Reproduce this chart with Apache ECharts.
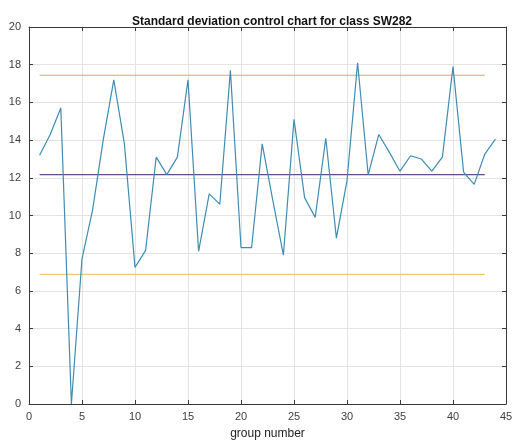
<!DOCTYPE html>
<html>
<head>
<meta charset="utf-8">
<script src="https://cdn.jsdelivr.net/npm/echarts@6/dist/echarts.min.js"></script>
<style>
  html, body { margin: 0; padding: 0; background: #fff; }
  #chart { width: 516px; height: 440px; }
</style>
</head>
<body>
<div id="chart"></div>
<script>
// group numbers and standard deviation per group
const groups = [1, 2, 3, 4, 5, 6, 7, 8, 9, 10, 11, 12, 13, 14, 15, 16, 17, 18, 19, 20, 21, 22,
  23, 24, 25, 26, 27, 28, 29, 30, 31, 32, 33, 34, 35, 36, 37, 38, 39, 40, 41, 42, 43, 44];
const stdDev = [13.2, 14.3, 15.7, 0, 7.7, 10.3, 14.0, 17.2, 13.8, 7.25, 8.15, 13.1, 12.17, 13.1,
  17.2, 8.1, 11.15, 10.6, 17.7, 8.3, 8.3, 13.8, 10.8, 7.9, 15.1, 10.95, 9.9, 14.1, 8.8, 11.85,
  18.1, 12.15, 14.3, 13.35, 12.35, 13.17, 13.0, 12.35, 13.1, 17.9, 12.3, 11.65, 13.26, 14.05];

// control limits, drawn from group 1 to group 43
const limitRange = [1, 43];
const ucl = 17.44;
const centerLine = 12.17;
const lcl = 6.88;

const xTicks = { min: 0, max: 45, interval: 5 };
const yTicks = { min: 0, max: 20, interval: 2 };

const chart = echarts.init(document.getElementById("chart"));

const axisColor = "#3a3a3a";
const labelColor = "#404040";
const font = "Liberation Sans, Arial, sans-serif";

const limitSeries = (name, value, color) => ({
  name,
  type: "line",
  data: limitRange.map((x) => [x, value]),
  showSymbol: false,
  symbol: "none",
  lineStyle: { color, width: 1.2 },
  z: 2,
  silent: true,
});

const baseX = {
  type: "value",
  min: xTicks.min,
  max: xTicks.max,
  interval: xTicks.interval,
  axisLine: { show: true, onZero: false, lineStyle: { color: axisColor, width: 1 } },
  axisTick: { show: true, inside: true, length: 4, lineStyle: { color: axisColor } },
};
const baseY = {
  type: "value",
  min: yTicks.min,
  max: yTicks.max,
  interval: yTicks.interval,
  axisLine: { show: true, onZero: false, lineStyle: { color: axisColor, width: 1 } },
  axisTick: { show: true, inside: true, length: 4, lineStyle: { color: axisColor } },
};

chart.setOption({
  animation: false,
  backgroundColor: "#ffffff",
  title: {
    text: "Standard deviation control chart for class SW282",
    left: 267,
    textAlign: "center",
    top: 11,
    textStyle: { fontFamily: font, fontSize: 12, fontWeight: "bold", color: "#111" },
  },
  grid: { left: 29, right: 10, top: 27, bottom: 36, outerBoundsMode: "none", containLabel: false },
  xAxis: [
    {
      ...baseX,
      position: "bottom",
      name: "group number",
      nameLocation: "middle",
      nameGap: 24,
      nameTextStyle: { fontFamily: font, fontSize: 12, color: "#222" },
      axisLabel: { fontFamily: font, fontSize: 11, color: labelColor, margin: 7 },
      splitLine: { show: true, lineStyle: { color: "#e3e3e3", width: 1 } },
    },
    {
      ...baseX,
      position: "top",
      axisLabel: { show: false },
      splitLine: { show: false },
    },
  ],
  yAxis: [
    {
      ...baseY,
      position: "left",
      axisLabel: { fontFamily: font, fontSize: 11, color: labelColor, margin: 8 },
      splitLine: { show: true, lineStyle: { color: "#e3e3e3", width: 1 } },
    },
    {
      ...baseY,
      position: "right",
      axisLabel: { show: false },
      splitLine: { show: false },
    },
  ],
  series: [
    limitSeries("UCL", ucl, "#dca27f"),
    limitSeries("Center", centerLine, "#6a4a8c"),
    limitSeries("LCL", lcl, "#eacb6e"),
    {
      name: "Standard deviation",
      type: "line",
      data: groups.map((g, i) => [g, stdDev[i]]),
      showSymbol: false,
      symbol: "none",
      lineStyle: { color: "#3d8db5", width: 1.2 },
      z: 3,
    },
  ],
});
</script>
</body>
</html>
